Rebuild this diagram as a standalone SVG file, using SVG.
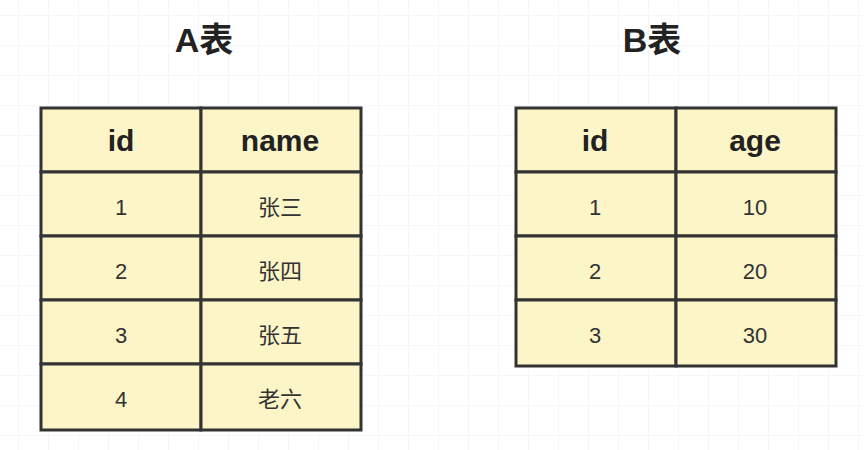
<svg xmlns="http://www.w3.org/2000/svg" width="864" height="450" viewBox="0 0 864 450">
<defs>
<pattern id="g" width="30" height="30" patternUnits="userSpaceOnUse" x="18" y="15">
<path d="M0 0H30M0 0V30" fill="none" stroke="#eeeef2" stroke-width="1"/>
</pattern>
<style>
.c{fill:#fcf5c8;stroke:#333;stroke-width:3}
.h{font-family:"Liberation Sans","Noto Sans CJK SC",sans-serif;font-size:30px;font-weight:bold;fill:#222;text-anchor:middle}
.t{font-family:"Liberation Sans","Noto Sans CJK SC",sans-serif;font-size:22px;fill:#333;text-anchor:middle}
.ti{font-family:"Liberation Sans","Noto Sans CJK SC",sans-serif;font-size:34px;font-weight:bold;fill:#222;text-anchor:middle}
</style>
</defs>
<rect width="864" height="450" fill="#fff"/>
<rect width="864" height="450" fill="url(#g)"/>
<g id="titleA"><text class="ti" x="204" y="52">A表</text></g>
<g id="titleB"><text class="ti" x="652" y="52">B表</text></g>
<g id="tableA">
<rect class="c" x="41" y="108" width="160" height="64"/><rect class="c" x="201" y="108" width="160" height="64"/>
<rect class="c" x="41" y="172" width="160" height="64"/><rect class="c" x="201" y="172" width="160" height="64"/>
<rect class="c" x="41" y="236" width="160" height="64"/><rect class="c" x="201" y="236" width="160" height="64"/>
<rect class="c" x="41" y="300" width="160" height="64"/><rect class="c" x="201" y="300" width="160" height="64"/>
<rect class="c" x="41" y="364" width="160" height="66"/><rect class="c" x="201" y="364" width="160" height="66"/>
<text class="h" x="121" y="151">id</text><text class="h" x="280" y="151">name</text>
<text class="t" x="121" y="215">1</text><text class="t" x="280" y="215">张三</text>
<text class="t" x="121" y="279">2</text><text class="t" x="280" y="279">张四</text>
<text class="t" x="121" y="343">3</text><text class="t" x="280" y="343">张五</text>
<text class="t" x="121" y="407">4</text><text class="t" x="280" y="407">老六</text>
</g>
<g id="tableB">
<rect class="c" x="516" y="108" width="160" height="64"/><rect class="c" x="676" y="108" width="160" height="64"/>
<rect class="c" x="516" y="172" width="160" height="64"/><rect class="c" x="676" y="172" width="160" height="64"/>
<rect class="c" x="516" y="236" width="160" height="64"/><rect class="c" x="676" y="236" width="160" height="64"/>
<rect class="c" x="516" y="300" width="160" height="66"/><rect class="c" x="676" y="300" width="160" height="66"/>
<text class="h" x="595" y="151">id</text><text class="h" x="755" y="151">age</text>
<text class="t" x="595" y="215">1</text><text class="t" x="755" y="215">10</text>
<text class="t" x="595" y="279">2</text><text class="t" x="755" y="279">20</text>
<text class="t" x="595" y="343">3</text><text class="t" x="755" y="343">30</text>
</g>
<g id="connectors"/>
</svg>
